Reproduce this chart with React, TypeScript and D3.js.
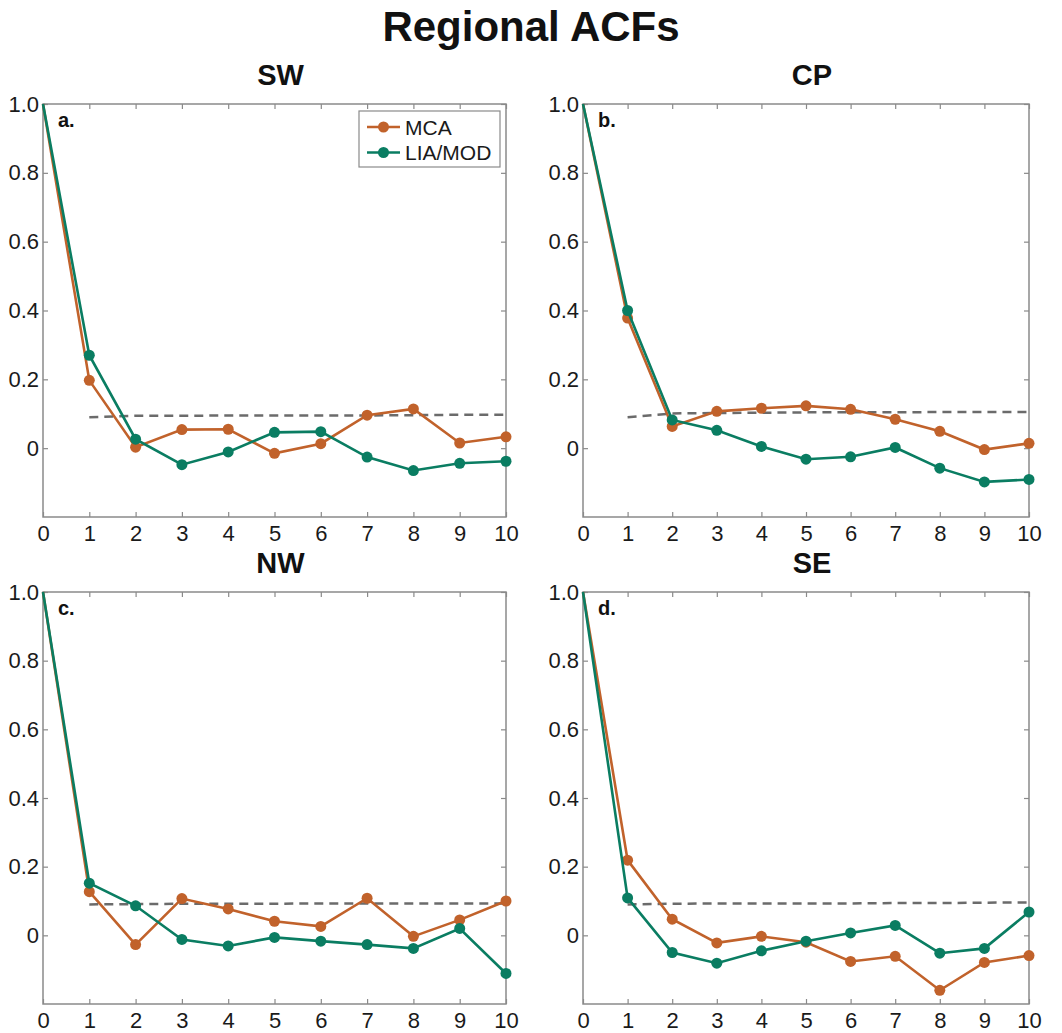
import React, { useEffect, useRef } from "react";
import * as d3 from "d3";

const lags = [0, 1, 2, 3, 4, 5, 6, 7, 8, 9, 10];
const yTicks = [0, 0.2, 0.4, 0.6, 0.8, 1.0];

const regions = ["SW", "CP", "NW", "SE"];
const panelTags = ["a.", "b.", "c.", "d."];

const mcaSW = [1.0, 0.197, 0.003, 0.054, 0.055, -0.015, 0.013, 0.096, 0.114, 0.015, 0.033];
const liaSW = [1.0, 0.27, 0.026, -0.048, -0.011, 0.046, 0.048, -0.026, -0.065, -0.044, -0.038];
const sigSW = [0.09, 0.094, 0.094, 0.095, 0.095, 0.095, 0.095, 0.096, 0.097, 0.097];

const mcaCP = [1.0, 0.378, 0.063, 0.107, 0.116, 0.123, 0.113, 0.084, 0.049, -0.004, 0.014];
const liaCP = [1.0, 0.4, 0.082, 0.052, 0.005, -0.032, -0.025, 0.002, -0.058, -0.098, -0.091];
const sigCP = [0.09, 0.101, 0.102, 0.103, 0.104, 0.104, 0.104, 0.105, 0.105, 0.105];

const mcaNW = [1.0, 0.127, -0.027, 0.107, 0.077, 0.041, 0.026, 0.108, -0.003, 0.045, 0.1];
const liaNW = [1.0, 0.152, 0.086, -0.012, -0.031, -0.006, -0.017, -0.027, -0.038, 0.02, -0.111];
const sigNW = [0.09, 0.091, 0.092, 0.092, 0.092, 0.093, 0.093, 0.093, 0.093, 0.093];

const mcaSE = [1.0, 0.219, 0.047, -0.022, -0.003, -0.02, -0.076, -0.061, -0.16, -0.079, -0.059];
const liaSE = [1.0, 0.109, -0.05, -0.081, -0.045, -0.017, 0.007, 0.029, -0.052, -0.038, 0.068];
const sigSE = [0.09, 0.092, 0.093, 0.093, 0.093, 0.093, 0.094, 0.094, 0.095, 0.096];

const mcaAll = [mcaSW, mcaCP, mcaNW, mcaSE];
const liaAll = [liaSW, liaCP, liaNW, liaSE];
const sigAll = [sigSW, sigCP, sigNW, sigSE];

const seriesNames = ["MCA", "LIA/MOD"];
const seriesColors = ["#c1622b", "#0a7d62"];

export default function App() {
  const svgRef = useRef(null);

  useEffect(() => {
    const width = 1062;
    const height = 1033;
    const font = "'Liberation Sans', Arial, Helvetica, sans-serif";
    const frameColor = "#8a8a8a";

    const boxes = [
      { left: 43, right: 506, top: 104, bottom: 517 },
      { left: 583, right: 1029, top: 104, bottom: 517 },
      { left: 43, right: 506, top: 592, bottom: 1004 },
      { left: 583, right: 1029, top: 592, bottom: 1004 },
    ];

    d3.select(svgRef.current).selectAll("*").remove();

    const svg = d3
      .select(svgRef.current)
      .attr("width", width)
      .attr("height", height)
      .style("font-family", font);

    svg
      .append("rect")
      .attr("width", width)
      .attr("height", height)
      .attr("fill", "#fff");

    svg
      .append("text")
      .attr("x", width / 2)
      .attr("y", 41)
      .attr("text-anchor", "middle")
      .style("font-size", "42px")
      .style("font-weight", "bold")
      .attr("fill", "#111")
      .text("Regional ACFs");

    boxes.forEach((b, i) => {
      const x = d3.scaleLinear().domain([0, 10]).range([b.left, b.right]);
      const y = d3.scaleLinear().domain([-0.2, 1.0]).range([b.bottom, b.top]);

      const g = svg.append("g");

      // region title
      g.append("text")
        .attr("x", (b.left + b.right) / 2 + 6)
        .attr("y", b.top - 19)
        .attr("text-anchor", "middle")
        .style("font-size", "29px")
        .style("font-weight", "bold")
        .attr("fill", "#111")
        .text(regions[i]);

      // axes, ticks pointing inwards on all four sides
      const bottomAxis = d3
        .axisBottom(x)
        .tickValues(lags)
        .tickSize(-5)
        .tickSizeOuter(0)
        .tickPadding(8)
        .tickFormat(d3.format("d"));
      const leftAxis = d3
        .axisLeft(y)
        .tickValues(yTicks)
        .tickSize(-5)
        .tickSizeOuter(0)
        .tickPadding(4)
        .tickFormat((d) => (d === 0 ? "0" : d3.format(".1f")(d)));
      const topAxis = d3.axisTop(x).tickValues(lags).tickSize(-5).tickSizeOuter(0).tickFormat(() => "");
      const rightAxis = d3.axisRight(y).tickValues(yTicks).tickSize(-5).tickSizeOuter(0).tickFormat(() => "");

      const axes = [
        [bottomAxis, `translate(0,${b.bottom})`],
        [leftAxis, `translate(${b.left},0)`],
        [topAxis, `translate(0,${b.top})`],
        [rightAxis, `translate(${b.right},0)`],
      ];
      axes.forEach(([ax, tr]) => {
        const a = g.append("g").attr("transform", tr).call(ax);
        a.select(".domain").remove();
        a.selectAll("line").attr("stroke", frameColor).attr("stroke-width", 1.2);
        a.selectAll("text")
          .style("font-size", "22px")
          .style("font-family", font)
          .attr("fill", "#1a1a1a");
      });

      g.append("rect")
        .attr("x", b.left)
        .attr("y", b.top)
        .attr("width", b.right - b.left)
        .attr("height", b.bottom - b.top)
        .attr("fill", "none")
        .attr("stroke", frameColor)
        .attr("stroke-width", 1.5);

      // significance level (dashed)
      const sig = sigAll[i].map((v, k) => [k + 1, v]);
      g.append("path")
        .datum(sig)
        .attr("d", d3.line().x((d) => x(d[0])).y((d) => y(d[1])))
        .attr("fill", "none")
        .attr("stroke", "#6b6b6b")
        .attr("stroke-width", 2.5)
        .attr("stroke-dasharray", "9,6");

      // MCA first, LIA/MOD drawn on top
      [mcaAll[i], liaAll[i]].forEach((vals, s) => {
        const pts = vals.map((v, k) => [lags[k], v]);
        g.append("path")
          .datum(pts)
          .attr("d", d3.line().x((d) => x(d[0])).y((d) => y(d[1])))
          .attr("fill", "none")
          .attr("stroke", seriesColors[s])
          .attr("stroke-width", 2.6);
        g.selectAll(null)
          .data(pts.slice(1))
          .join("circle")
          .attr("cx", (d) => x(d[0]))
          .attr("cy", (d) => y(d[1]))
          .attr("r", 5.5)
          .attr("fill", seriesColors[s]);
      });

      // panel tag
      g.append("text")
        .attr("x", b.left + 15)
        .attr("y", b.top + 23)
        .style("font-size", "20px")
        .style("font-weight", "bold")
        .attr("fill", "#111")
        .text(panelTags[i]);

      if (i === 0) {
        const lg = g.append("g").attr("transform", `translate(${b.right - 147},${b.top + 7})`);
        lg.append("rect")
          .attr("width", 141)
          .attr("height", 56)
          .attr("fill", "#fff")
          .attr("stroke", frameColor)
          .attr("stroke-width", 1.2);
        seriesNames.forEach((name, s) => {
          const ly = 16 + s * 25.5;
          lg.append("line")
            .attr("x1", 8)
            .attr("x2", 41)
            .attr("y1", ly)
            .attr("y2", ly)
            .attr("stroke", seriesColors[s])
            .attr("stroke-width", 2.6);
          lg.append("circle").attr("cx", 24.5).attr("cy", ly).attr("r", 5.5).attr("fill", seriesColors[s]);
          lg.append("text")
            .attr("x", 46)
            .attr("y", ly)
            .attr("dy", "0.36em")
            .style("font-size", "21px")
            .attr("fill", "#1a1a1a")
            .text(name);
        });
      }
    });
  }, []);

  return (
    <div style={{ position: "absolute", left: 0, top: 0 }}>
      <svg ref={svgRef} style={{ display: "block" }} />
    </div>
  );
}
